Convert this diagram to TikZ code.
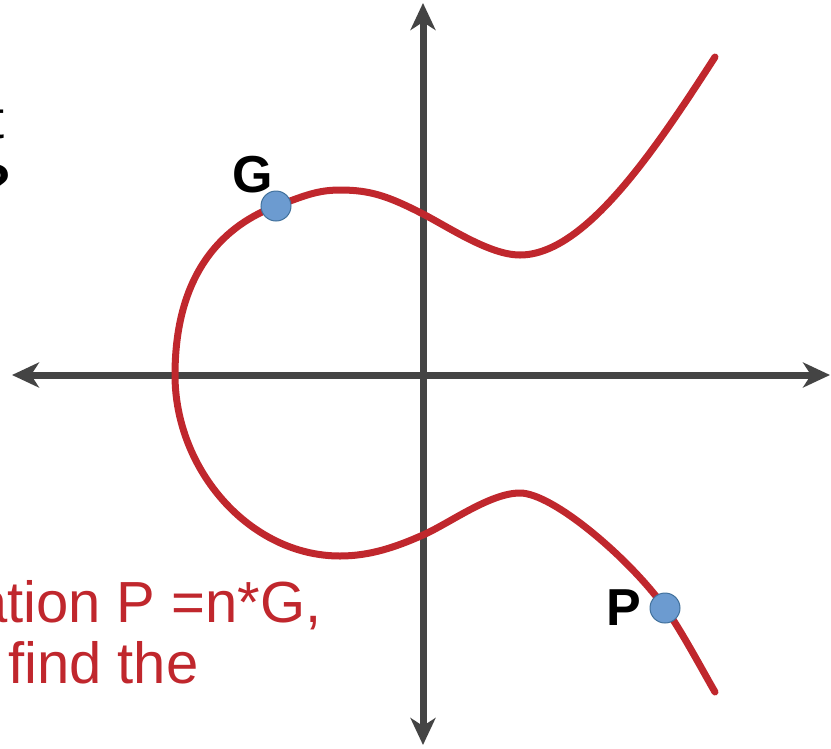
\documentclass[tikz,border=0pt]{standalone}
\usepackage{fontspec}
\setmainfont{Liberation Sans}
\usetikzlibrary{arrows.meta,positioning}
\definecolor{curvered}{HTML}{C0272D}
\definecolor{axisgray}{HTML}{444444}
\definecolor{dotblue}{HTML}{6C9BD0}
\definecolor{dotedge}{HTML}{41719C}

\begin{document}
\begin{tikzpicture}[x=1pt,y=-1pt,
  axis/.style={line width=7pt,axisgray,{Stealth[length=27pt,width=25pt,inset=8pt]}-{Stealth[length=27pt,width=25pt,inset=8pt]}},
  ecurve/.style={line width=7pt,curvered,line cap=round},
  ecpoint/.style={circle,fill=dotblue,draw=dotedge,line width=1pt,minimum size=30pt,inner sep=0pt},
  ptlabel/.style={font=\bfseries\fontsize{52}{52}\selectfont,inner sep=0pt},
  redtext/.style={font=\fontsize{58}{58}\selectfont,text=curvered,inner sep=0pt}]
  \useasboundingbox (0,0) rectangle (831,748);
  % cropped text at the edges
  \node[font=\fontsize{54}{54}\selectfont,inner sep=0pt,anchor=base east] (cutt) at (5,138) {t};
  \node[font=\bfseries\fontsize{54}{54}\selectfont,inner sep=0pt,anchor=base east] (cutq) at (12,202) {?};
  \node[redtext,anchor=base east] (eqline) at (322,622) {ation P =n*G,};
  \node[redtext,anchor=base west] (findline) at (8,683) {find the};
  % axes
  \coordinate (xl) at (12,375); \coordinate (xr) at (830,375);
  \coordinate (yt) at (423,3);  \coordinate (yb) at (423,745);
  \draw[axis] (xl) -- (xr);
  \draw[axis] (yt) -- (yb);
  % the curve
  \coordinate (gpos) at (276,206); \coordinate (ppos) at (665,608);
  \draw[ecurve] (715,57) .. controls (655,150) and (585,255) .. (520,255)
    .. controls (490,255) and (450,228) .. (423,214)
    .. controls (388,196) and (370,190) .. (340,190)
    .. controls (315,190) and (301,197.5) .. (gpos)
    .. controls (228,224) and (175,268) .. (175,375)
    .. controls (175,470) and (250,556) .. (340,556)
    .. controls (370,556) and (396,547) .. (423,535)
    .. controls (450,523) and (490,493) .. (520,493)
    .. controls (553,493) and (630,559) .. (ppos)
    .. controls (680,628) and (705,675) .. (715,692);
  % points
  \node[ecpoint] (G) at (gpos) {};
  \node[ecpoint] (P) at (ppos) {};
  \node[ptlabel,above left=2pt and -8pt of G] (Glbl) {G};
  \node[ptlabel,left=8pt of P] (Plbl) {P};
\end{tikzpicture}
\end{document}
